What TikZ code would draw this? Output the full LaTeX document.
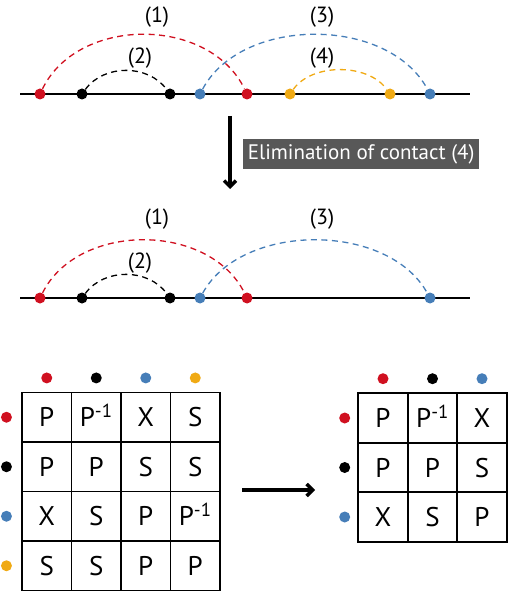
\documentclass[tikz,border=0pt]{standalone}
\usepackage{fontspec}
\setmainfont{PT Sans}
\usepackage{tikz}
\usetikzlibrary{matrix,calc,arrows.meta,positioning}
\definecolor{cred}{RGB}{208,16,32}
\definecolor{cblue}{RGB}{70,126,184}
\definecolor{cyellow}{RGB}{240,170,20}
\definecolor{cgray}{RGB}{88,88,88}
\tikzset{
  dot/.style = {circle, inner sep=0pt, minimum size=11pt},
  contact/.style = {dash pattern=on 6pt off 4.5pt, line width=1.3pt},
  lbl/.style = {font=\fontsize{22}{24}\selectfont},
  cell/.style = {draw, line width=1.7pt, minimum size=49.5pt, inner sep=0pt, anchor=center,
                 text height=19pt, text depth=0pt, font=\fontsize{27}{29}\selectfont},
  bigarrow/.style = {line width=3.8pt, -{Straight Barb[length=6pt, width=12pt, line width=3.5pt]}}
}
\begin{document}
\begin{tikzpicture}[x=1pt, y=-1pt]
  \useasboundingbox (0,0) rectangle (510,593);
  % first strand
  \draw[line width=2pt] (20,94) -- (470,94);
  \node[dot, fill=cred] (a1) at (40,94) {};
  \node[dot, fill=black] (a2) at (82,94) {};
  \node[dot, fill=black] (a3) at (170,94) {};
  \node[dot, fill=cblue] (a4) at (200,94) {};
  \node[dot, fill=cred] (a5) at (247,94) {};
  \node[dot, fill=cyellow] (a6) at (290,94) {};
  \node[dot, fill=cyellow] (a7) at (390,94) {};
  \node[dot, fill=cblue] (a8) at (430,94) {};
  \draw[contact, cred] (a1) .. controls +(38,-78) and +(-38,-78) .. (a5);
  \draw[contact, black] (a2) .. controls +(22,-30) and +(-22,-30) .. (a3);
  \draw[contact, cblue] (a4) .. controls +(42,-78) and +(-42,-78) .. (a8);
  \draw[contact, cyellow] (a6) .. controls +(22,-31) and +(-22,-31) .. (a7);
  \node[lbl] (l1) at (157,17) {(1)};
  \node[lbl] (l2) at (140,58) {(2)};
  \node[lbl] (l3) at (322,17) {(3)};
  \node[lbl] (l4) at (322,58) {(4)};
  % elimination step
  \coordinate (s0) at (230,116);
  \coordinate (s1) at (230,189);
  \draw[bigarrow] (s0) -- (s1);
  \node[fill=cgray, text=white, anchor=west, minimum height=30pt, minimum width=236pt, inner xsep=3pt,
        font=\fontsize{21}{23}\selectfont] (elim) at (243,154) {Elimination of contact (4)};
  % second strand
  \draw[line width=2pt] (20,298) -- (470,298);
  \node[dot, fill=cred] (b1) at (40,298) {};
  \node[dot, fill=black] (b2) at (82,298) {};
  \node[dot, fill=black] (b3) at (170,298) {};
  \node[dot, fill=cblue] (b4) at (200,298) {};
  \node[dot, fill=cred] (b5) at (247,298) {};
  \node[dot, fill=cblue] (b8) at (430,298) {};
  \draw[contact, cred] (b1) .. controls +(38,-76) and +(-38,-76) .. (b5);
  \draw[contact, black] (b2) .. controls +(22,-30) and +(-22,-30) .. (b3);
  \draw[contact, cblue] (b4) .. controls +(42,-76) and +(-42,-76) .. (b8);
  \node[lbl] (m1) at (157,219) {(1)};
  \node[lbl] (m2) at (140,263) {(2)};
  \node[lbl] (m3) at (322,219) {(3)};
  % matrices
  \matrix (big) at (121,491.5) [matrix of nodes, nodes={cell}, column sep=-1.7pt, row sep=-1.7pt] {
    P & P\textsuperscript{-1} & X & S \\
    P & P & S & S \\
    X & S & P & P\textsuperscript{-1} \\
    S & S & P & P \\
  };
  \matrix (small) at (432.5,467.5) [matrix of nodes, nodes={cell}, column sep=-1.7pt, row sep=-1.7pt] {
    P & P\textsuperscript{-1} & X \\
    P & P & S \\
    X & S & P \\
  };
  \node[dot, fill=cred, above=8pt of big-1-1] (c1) {};
  \node[dot, fill=black, above=8pt of big-1-2] (c2) {};
  \node[dot, fill=cblue, above=8pt of big-1-3] (c3) {};
  \node[dot, fill=cyellow, above=8pt of big-1-4] (c4) {};
  \node[dot, fill=cred, left=9pt of big-1-1] (r1) {};
  \node[dot, fill=black, left=9pt of big-2-1] (r2) {};
  \node[dot, fill=cblue, left=9pt of big-3-1] (r3) {};
  \node[dot, fill=cyellow, left=9pt of big-4-1] (r4) {};
  \node[dot, fill=cred, above=8pt of small-1-1] (d1) {};
  \node[dot, fill=black, above=8pt of small-1-2] (d2) {};
  \node[dot, fill=cblue, above=8pt of small-1-3] (d3) {};
  \node[dot, fill=cred, left=7pt of small-1-1] (q1) {};
  \node[dot, fill=black, left=7pt of small-2-1] (q2) {};
  \node[dot, fill=cblue, left=7pt of small-3-1] (q3) {};
  \coordinate (t0) at (242,490);
  \coordinate (t1) at (315,490);
  \draw[bigarrow] (t0) -- (t1);
\end{tikzpicture}
\end{document}
